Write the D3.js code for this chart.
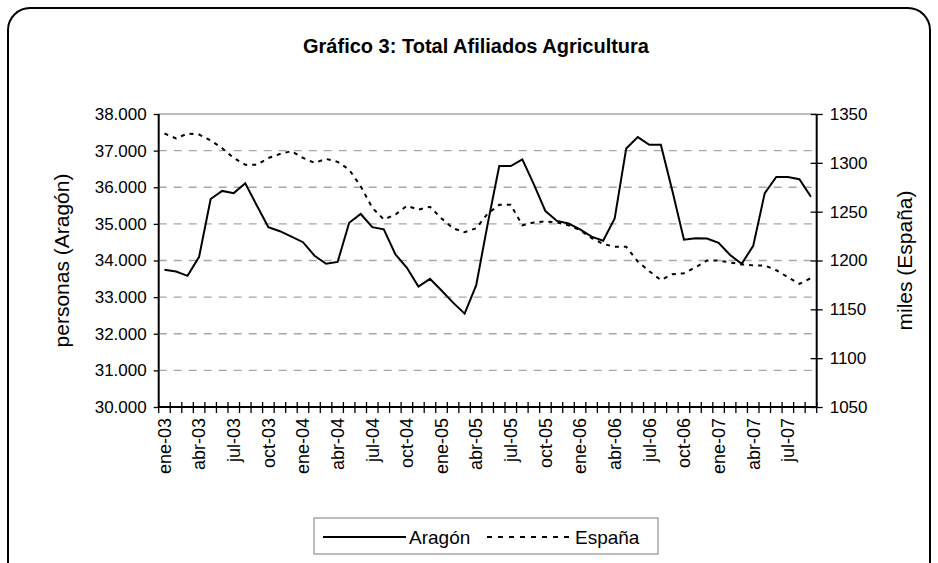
<!DOCTYPE html>
<html><head><meta charset="utf-8">
<script src="https://cdn.jsdelivr.net/npm/d3@7/dist/d3.min.js"></script>
<style>body{margin:0;background:#fff}svg{display:block}text{font-family:"Liberation Sans",Arial,sans-serif}</style>
</head><body>
<svg id="c" width="938" height="563"></svg>
<script>
const categories = ["ene-03","feb-03","mar-03","abr-03","may-03","jun-03","jul-03","ago-03","sep-03","oct-03","nov-03","dic-03",
"ene-04","feb-04","mar-04","abr-04","may-04","jun-04","jul-04","ago-04","sep-04","oct-04","nov-04","dic-04",
"ene-05","feb-05","mar-05","abr-05","may-05","jun-05","jul-05","ago-05","sep-05","oct-05","nov-05","dic-05",
"ene-06","feb-06","mar-06","abr-06","may-06","jun-06","jul-06","ago-06","sep-06","oct-06","nov-06","dic-06",
"ene-07","feb-07","mar-07","abr-07","may-07","jun-07","jul-07","ago-07","sep-07"];
const aragon = [33750,33700,33580,34100,35680,35900,35840,36110,35500,34910,34800,34650,
34500,34130,33910,33960,35030,35270,34910,34850,34170,33800,33290,33500,
33180,32850,32550,33320,35000,36580,36580,36760,36080,35350,35080,35010,
34850,34650,34540,35150,37060,37370,37160,37160,35900,34570,34610,
34600,34480,34150,33910,34400,35840,36280,36280,36220,35740];
const espana = [1330,1325,1330,1329,1323,1315,1305,1298,1298,1305,1309,1312,
1305,1300,1304,1301,1293,1276,1254,1242,1247,1256,1252,1255,
1243,1233,1229,1233,1248,1257,1257,1236,1239,1240,1239,1236,
1231,1223,1217,1214,1214,1199,1189,1180,1186,1187,1193,
1200,1200,1198,1196,1195,1195,1190,1183,1176,1182];
const leftTicks = [30000,31000,32000,33000,34000,35000,36000,37000,38000];
const rightTicks = [1050,1100,1150,1200,1250,1300,1350];
const labelEvery = 3;
const title = "Gráfico 3: Total Afiliados Agricultura";
const leftTitle = "personas (Aragón)";
const rightTitle = "miles (España)";
const seriesNames = ["Aragón","España"];

const svg = d3.select("#c");
const L = 158.7, R = 816.7, T = 114, B = 407;

// outer rounded frame
svg.append("rect").attr("x",8).attr("y",8).attr("width",922).attr("height",600)
  .attr("rx",22).attr("ry",22).attr("fill","#fff").attr("stroke","#000").attr("stroke-width",2);

const x = d3.scaleBand().domain(categories).range([L,R]).padding(0);
const yL = d3.scaleLinear().domain([30000,38000]).range([B,T]);
const yR = d3.scaleLinear().domain([1050,1350]).range([B,T]);
const loc = d3.formatLocale({decimal:",",thousands:".",grouping:[3],currency:["","€"]});
const fmtL = loc.format(",.0f");

// gridlines
svg.append("g").selectAll("line").data(leftTicks.filter(v=>v>30000)).join("line")
  .attr("x1",L).attr("x2",R).attr("y1",d=>yL(d)).attr("y2",d=>yL(d))
  .attr("stroke","#a6a6a6").attr("stroke-width",1.3)
  .attr("stroke-dasharray",d=>d===38000?null:"8,7");

// lines
const cx = d => x(d) + x.bandwidth()/2;
svg.append("path").datum(aragon)
  .attr("d", d3.line().x((d,i)=>cx(categories[i])).y(d=>yL(d)))
  .attr("fill","none").attr("stroke","#000").attr("stroke-width",2).attr("stroke-linejoin","miter");
svg.append("path").datum(espana)
  .attr("d", d3.line().x((d,i)=>cx(categories[i])).y(d=>yR(d)))
  .attr("fill","none").attr("stroke","#000").attr("stroke-width",2).attr("stroke-dasharray","4,5");

// left axis
const gL = svg.append("g").attr("transform",`translate(${L},0)`)
  .call(d3.axisLeft(yL).tickValues(leftTicks).tickFormat(fmtL).tickSize(5).tickPadding(7));
// right axis
const gR = svg.append("g").attr("transform",`translate(${R},0)`)
  .call(d3.axisRight(yR).tickValues(rightTicks).tickFormat(d3.format("d")).tickSize(6).tickPadding(7));
gR.selectAll(".tick line").attr("x1",-6);
// bottom axis: ticks between categories
const gB = svg.append("g").attr("transform",`translate(0,${B})`)
  .call(d3.axisBottom(x).tickValues(categories.filter((c,i)=>i%labelEvery===0)).tickSize(0).tickPadding(0));
const bounds = categories.map(c=>x(c)).concat([R]);
svg.append("g").selectAll("line").data(bounds).join("line")
  .attr("x1",d=>d).attr("x2",d=>d).attr("y1",B-5).attr("y2",B+6)
  .attr("stroke","#000").attr("stroke-width",1.3);

[gL,gR,gB].forEach(g=>{
  g.select(".domain").attr("stroke","#000").attr("stroke-width",2);
  g.selectAll(".tick line").attr("stroke","#000").attr("stroke-width",1.3);
  g.selectAll("text").attr("font-size",17).attr("fill","#000").attr("font-family","Liberation Sans, Arial, sans-serif");
});
gB.selectAll(".tick text").attr("transform","rotate(-90)").attr("text-anchor","end")
  .attr("x",-11).attr("y",0).attr("dy","0.35em").attr("font-size",18);
gL.select(".domain").attr("d",`M0,${T}V${B}`);
gR.select(".domain").attr("d",`M0,${T}V${B}`);
gB.select(".domain").attr("d",`M${L},0H${R}`);

// titles
svg.append("text").attr("x",476).attr("y",53).attr("text-anchor","middle")
  .attr("font-size",20).attr("font-weight","bold").text(title);
svg.append("text").attr("transform",`translate(69,${(T+B)/2}) rotate(-90)`).attr("text-anchor","middle")
  .attr("font-size",21).text(leftTitle);
svg.append("text").attr("transform",`translate(912,${(T+B)/2}) rotate(-90)`).attr("text-anchor","middle")
  .attr("font-size",21).text(rightTitle);

// legend
const lg = svg.append("g");
lg.append("rect").attr("x",314).attr("y",518).attr("width",344).attr("height",36)
  .attr("fill","#fff").attr("stroke","#999").attr("stroke-width",1.3);
lg.append("line").attr("x1",323).attr("x2",406).attr("y1",537).attr("y2",537).attr("stroke","#000").attr("stroke-width",2);
lg.append("text").attr("x",409).attr("y",544).attr("font-size",19).text(seriesNames[0]);
lg.append("line").attr("x1",487).attr("x2",570).attr("y1",537).attr("y2",537).attr("stroke","#000").attr("stroke-width",2).attr("stroke-dasharray","5,6");
lg.append("text").attr("x",575).attr("y",544).attr("font-size",19).text(seriesNames[1]);
</script>
</body></html>
